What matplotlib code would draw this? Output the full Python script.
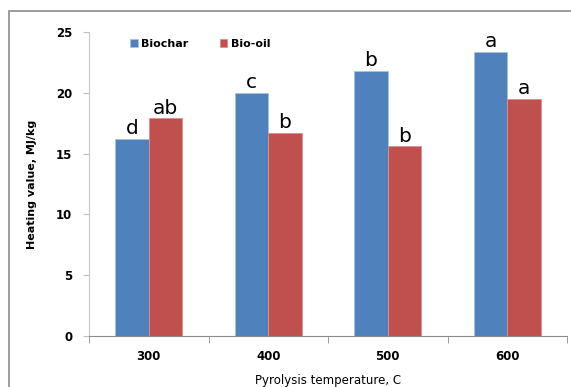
import numpy as np
import matplotlib.pyplot as plt
from matplotlib.patches import Rectangle

# Chart data
temperatures = ['300', '400', '500', '600']
biochar = [16.2, 20.0, 21.8, 23.4]
bio_oil = [17.9, 16.7, 15.6, 19.5]
biochar_letters = ['d', 'c', 'b', 'a']
bio_oil_letters = ['ab', 'b', 'b', 'a']

BLUE = '#4F81BD'
RED = '#C0504D'

fig = plt.figure(figsize=(5.71, 3.87), dpi=100)
ax = fig.add_axes([0.156, 0.132, 0.837, 0.785])

# outer chart frame, like the spreadsheet chart border
fig.patches.append(Rectangle((0.016, -0.05), 1.2, 1.021, transform=fig.transFigure,
                             fill=False, edgecolor='#8c8c8c', linewidth=1.2))

x = np.arange(len(temperatures))
width = 0.28
ax.bar(x - width / 2, biochar, width, color=BLUE, edgecolor='#a9c1e0',
       linewidth=0.6, label='Biochar')
ax.bar(x + width / 2, bio_oil, width, color=RED, edgecolor='#dd8f8d',
       linewidth=0.6, label='Bio-oil')

for xi, v, s in zip(x, biochar, biochar_letters):
    ax.text(xi - width / 2, v + 0.05, s, ha='center', va='bottom', fontsize=14.5)
for xi, v, s in zip(x, bio_oil, bio_oil_letters):
    ax.text(xi + width / 2, v + 0.05, s, ha='center', va='bottom', fontsize=14.5)

ax.set_xlim(-0.5, 3.5)
ax.set_ylim(0, 25)
ax.set_yticks([0, 5, 10, 15, 20, 25])
ax.set_xticks(x)
ax.set_xticklabels(temperatures)
ax.set_xticks(np.arange(-0.5, 4.0, 1.0), minor=True)
ax.tick_params(axis='x', which='major', length=0, pad=10)
ax.tick_params(axis='x', which='minor', length=5, color='#8c8c8c', direction='out')
ax.tick_params(axis='y', length=4, color='#c0c0c0', pad=8)
for lab in ax.get_xticklabels() + ax.get_yticklabels():
    lab.set_fontsize(8.5)
    lab.set_fontweight('bold')

for side in ['top', 'right']:
    ax.spines[side].set_visible(False)
ax.spines['left'].set_color('#c8c8c8')
ax.spines['bottom'].set_color('#8c8c8c')

ax.set_ylabel('Heating value, MJ/kg', fontsize=8, fontweight='bold', labelpad=14)
ax.set_xlabel('Pyrolysis temperature, C', fontsize=8.5, labelpad=8)

ax.legend(loc='upper left', bbox_to_anchor=(0.065, 1.01), ncol=2, frameon=False,
          prop={'weight': 'bold', 'size': 8}, handlelength=0.7,
          handleheight=0.7, handletextpad=0.3, columnspacing=2.8)

fig.savefig('out.png', dpi=100)
